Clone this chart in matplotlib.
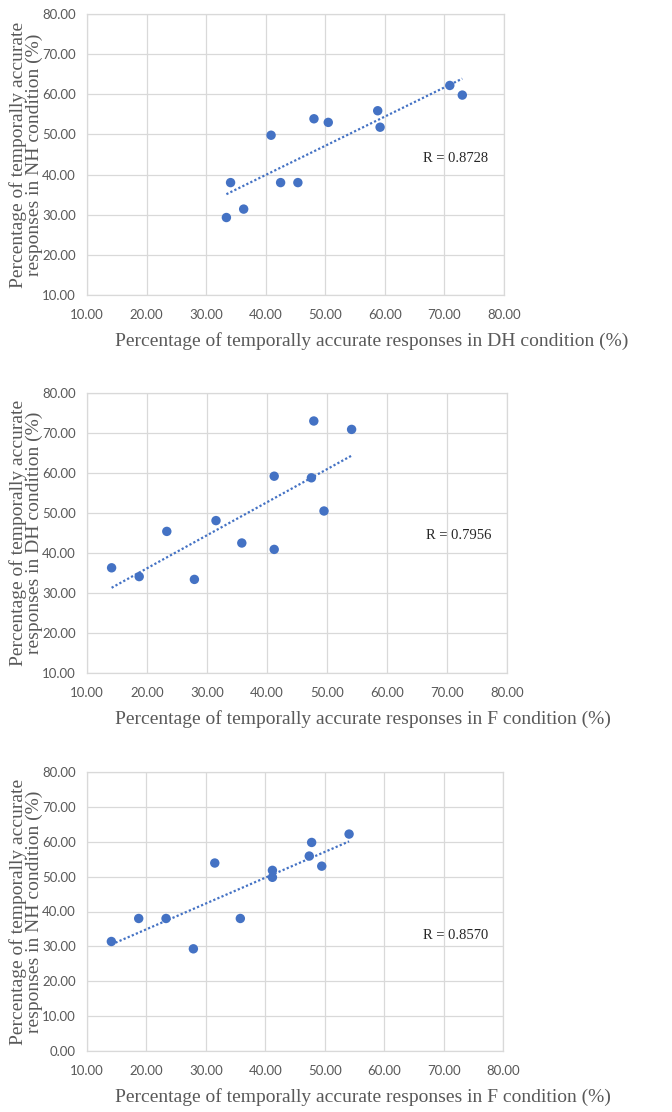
import matplotlib
matplotlib.use("Agg")
import matplotlib.pyplot as plt
import numpy as np

# Per-participant accuracy (%) in each condition
f_cond = [14.1, 18.7, 23.3, 27.9, 31.5, 35.8, 41.2, 41.2, 47.4, 47.8, 49.5, 54.1]
dh_cond = [36.3, 34.1, 45.4, 33.4, 48.1, 42.5, 59.2, 40.9, 58.8, 73.0, 50.5, 70.9]
nh_cond = [31.4, 38.0, 38.0, 29.3, 53.9, 38.0, 51.8, 49.8, 55.9, 59.8, 53.0, 62.2]

r_labels = ["R = 0.8728", "R = 0.7956", "R = 0.8570"]
x_labels = ["Percentage of temporally accurate responses in DH condition (%)",
            "Percentage of temporally accurate responses in F condition (%)",
            "Percentage of temporally accurate responses in F condition (%)"]
y_labels = ["Percentage of temporally accurate\nresponses in NH condition (%)",
            "Percentage of temporally accurate\nresponses in DH condition (%)",
            "Percentage of temporally accurate\nresponses in NH condition (%)"]
x_ticks = [10, 20, 30, 40, 50, 60, 70, 80]
y_ticks_ab = [10, 20, 30, 40, 50, 60, 70, 80]
y_ticks_c = [0, 10, 20, 30, 40, 50, 60, 70, 80]

panels = [
    (dh_cond, nh_cond, y_ticks_ab),
    (f_cond, dh_cond, y_ticks_ab),
    (f_cond, nh_cond, y_ticks_c),
]

W, H = 672, 1112
fig = plt.figure(figsize=(W / 100, H / 100), dpi=100)
fig.patch.set_facecolor("white")

# axes boxes in pixels: left, top, right, bottom
boxes = [(87, 14, 504, 295), (87, 393, 507, 673), (87, 772, 503, 1051)]
r_pos_y = [0.484, 0.49, 0.413]

blue = "#4472C4"
grid_c = "#D9D9D9"
text_c = "#595959"
serif = ["Liberation Serif", "DejaVu Serif"]
sans = ["Lato", "DejaVu Sans"]

for i, ((xs, ys, yt), (l, t, r, b)) in enumerate(zip(panels, boxes)):
    ax = fig.add_axes([l / W, 1 - b / H, (r - l) / W, (b - t) / H])
    ax.set_xlim(x_ticks[0], x_ticks[-1])
    ax.set_ylim(yt[0], yt[-1])
    ax.set_xticks(x_ticks)
    ax.set_yticks(yt)
    ax.set_xticklabels([f"{v:.2f}" for v in x_ticks], fontfamily=sans, fontsize=9.5, color=text_c)
    ax.set_yticklabels([f"{v:.2f}" for v in yt], fontfamily=sans, fontsize=9.5, color=text_c)
    ax.tick_params(length=0, pad=8)
    ax.tick_params(axis="x", pad=10)
    ax.grid(True, color=grid_c, lw=0.9)
    ax.set_axisbelow(True)
    for s in ax.spines.values():
        s.set_color(grid_c)
        s.set_linewidth(0.9)

    ax.scatter(xs, ys, s=46, color=blue, zorder=3, edgecolors="none")
    k, c = np.polyfit(xs, ys, 1)
    xx = np.array([min(xs), max(xs)])
    ax.plot(xx, k * xx + c, color=blue, lw=1.6, ls=(0, (1, 1)), zorder=2)

    ax.text(0.885, r_pos_y[i], r_labels[i], transform=ax.transAxes, ha="center", va="center",
            fontfamily=serif, fontsize=10.5, color="#262626")

    ax.set_ylabel(y_labels[i], fontfamily=serif, fontsize=14, color=text_c,
                  linespacing=0.95, multialignment="center")
    ax.yaxis.set_label_coords((26 - l) / (r - l), 0.5)
    ax.yaxis.label.set_va("center")
    ax.yaxis.label.set_ha("center")
    ax.set_xlabel(x_labels[i], fontfamily=serif, fontsize=14, color=text_c)
    ax.xaxis.set_label_coords((115 - l) / (r - l), -46 / (b - t))
    ax.xaxis.label.set_ha("left")
    ax.xaxis.label.set_va("center")

fig.savefig("out.png", dpi=100, facecolor="white")
